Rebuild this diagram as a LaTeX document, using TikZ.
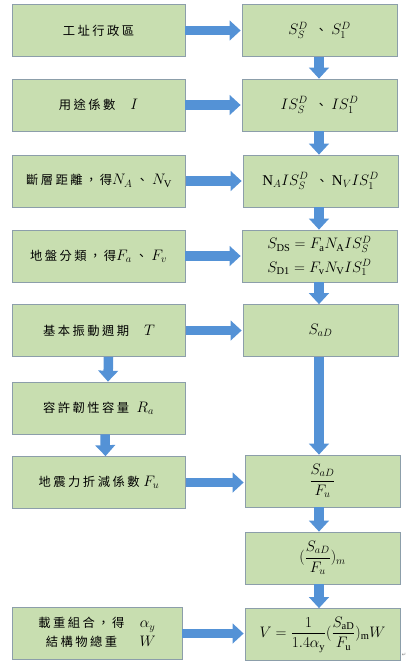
\documentclass[tikz,border=0pt]{standalone}
\usepackage{amsmath}
\usepackage{fontspec}
\setmainfont{Liberation Serif}
\newfontfamily\cjk[LetterSpace=20]{Noto Sans CJK TC}
\newfontfamily\symb{DejaVu Sans}
\usetikzlibrary{arrows.meta}
\definecolor{boxfill}{RGB}{200,222,176}
\definecolor{boxline}{RGB}{140,158,170}
\definecolor{arrowblue}{RGB}{84,146,214}
\newcommand\zh{\cjk\fontsize{14pt}{17pt}\selectfont}

\begin{document}
\begin{tikzpicture}[x=0.04cm, y=-0.04cm,
  font=\fontsize{17pt}{21pt}\selectfont,
  box/.style={draw=boxline, fill=boxfill, line width=0.8pt, minimum height=2.08cm, inner sep=2pt},
  lbox/.style={box, minimum width=6.92cm},
  rbox/.style={box, minimum width=6.2cm},
  bigarrow/.style={draw=arrowblue, line width=0.38cm, -{Triangle[width=0.78cm,length=0.44cm]}}]
  \useasboundingbox (0,0) rectangle (411,669);
  \node[lbox] (zone) at (98.5,30.5) {\zh 工址行政區};
  \node[rbox] (ss) at (319.5,30.5) {$S_S^D$\ \ {\zh 、}\ $S_1^D$};
  \node[lbox] (use) at (98.5,105) {{\zh 用途係數}\quad $I$};
  \node[rbox] (iss) at (319.5,105) {$IS_S^D$\ \ {\zh 、}\ $IS_1^D$};
  \node[lbox] (fault) at (99,181) {{\zh 斷層距離，得}$N_A$\ {\zh 、}\ $N_{\mathrm V}$};
  \node[rbox] (niss) at (320.5,181) {$\mathrm{N}_A IS_S^D$\ \ {\zh 、}\ $\mathrm{N}_V IS_1^D$};
  \node[lbox] (soil) at (98.5,256) {{\zh 地盤分類，得}$F_a$\ {\zh 、}\ $F_v$};
  \node[rbox, align=left] (sds) at (319.5,256) {$S_{\mathrm{DS}} = F_{\mathrm a}N_{\mathrm A}IS_S^D$\\[2mm]$S_{\mathrm{D1}} = F_{\mathrm v}N_{\mathrm V}IS_1^D$};
  \node[lbox] (period) at (99,330.5) {{\zh 基本振動週期}\quad $T$};
  \node[rbox] (sad) at (320.5,330.5) {$S_{aD}$};
  \node[lbox] (duct) at (98.5,408) {{\zh 容許韌性容量}\ \ $R_a$};
  \node[lbox] (redu) at (99,482.5) {{\zh 地震力折減係數}\ $F_u$};
  \node[rbox] (ratio) at (322.5,481) {$\dfrac{S_{aD}}{F_u}$};
  \node[rbox] (ratiom) at (322.5,558) {$(\dfrac{S_{aD}}{F_u})_m$};
  \node[lbox, minimum width=6.8cm] (load) at (97,633.5) {\begin{tabular}{@{}c@{\hspace{0.6cm}}c@{}}{\zh 載重組合，得} & $\alpha_y$\\ {\zh 結構物總重} & $W$\end{tabular}};
  \node[rbox] (base) at (322.5,634.5) {$V = \dfrac{1}{1.4\alpha_{\mathrm y}}(\dfrac{S_{\mathrm{aD}}}{F_{\mathrm u}})_{\mathrm m}W$};
  \node[font=\symb\fontsize{6pt}{6pt}\selectfont, text=gray, inner sep=0] (ret) at (404,655) {↵};
  \coordinate (spine) at (319,0);
  \foreach \a/\b in {zone/ss, use/iss, fault/niss, soil/sds, period/sad, redu/ratio, load/base}
    \draw[bigarrow] (\a.east) -- ([xshift=-0.04cm]\a.east -| \b.west);
  \foreach \a/\b in {ss/iss, iss/niss, niss/sds, sds/sad, sad/ratio, ratio/ratiom, ratiom/base}
    \draw[bigarrow] (\a.south -| spine) -- (\b.north -| spine);
  \draw[bigarrow] ([xshift=0.38cm]period.south) -- ([xshift=0.38cm]duct.north);
  \draw[bigarrow] ([xshift=0.26cm]duct.south) -- ([xshift=0.26cm]redu.north);
\end{tikzpicture}
\end{document}
